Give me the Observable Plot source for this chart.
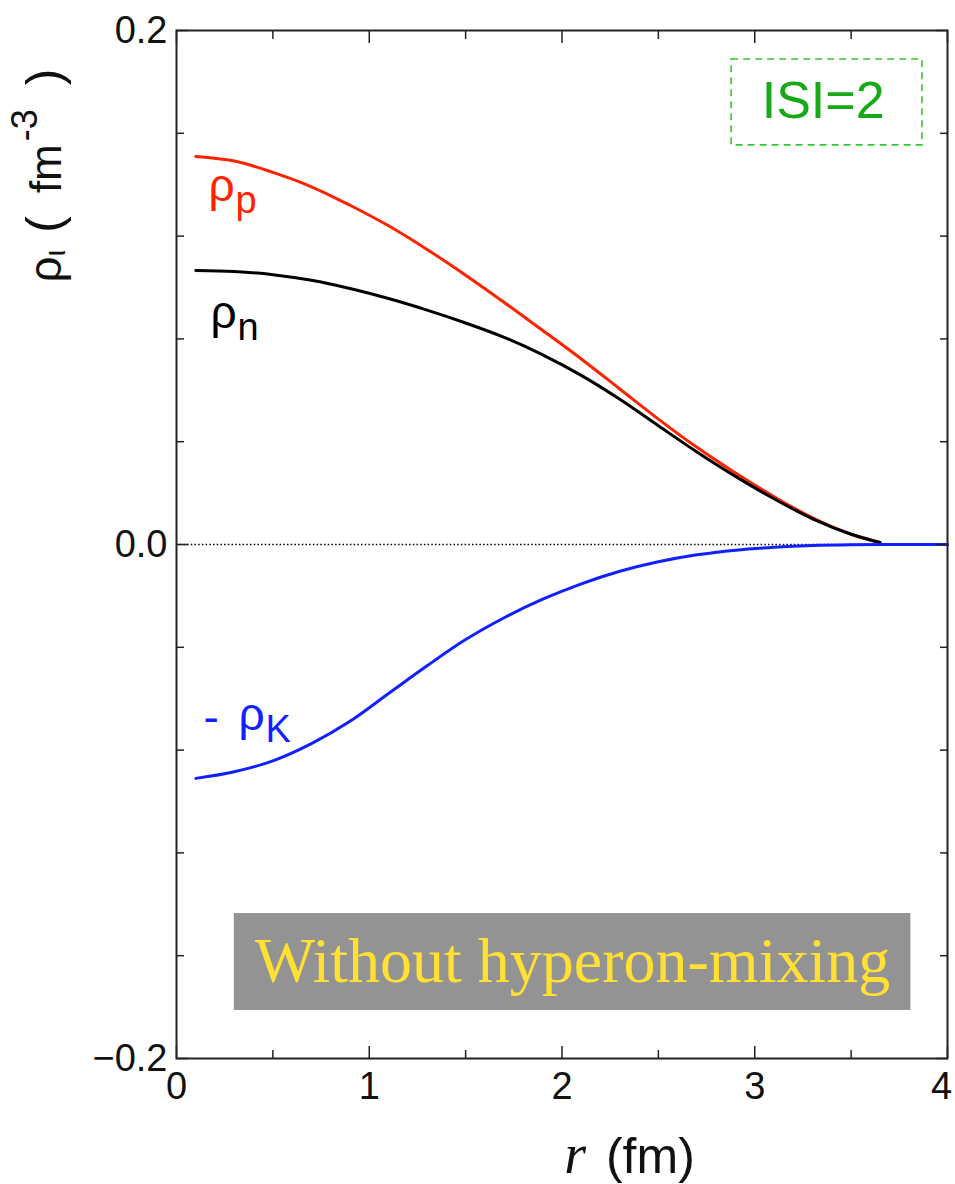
<!DOCTYPE html>
<html>
<head>
<meta charset="utf-8">
<script src="https://cdn.jsdelivr.net/npm/d3@7"></script>
<script src="https://cdn.jsdelivr.net/npm/@observablehq/plot@0.6"></script>
<style>
  html, body { margin: 0; padding: 0; background: #fff; }
  #chart svg { display: block; }
</style>
</head>
<body>
<div id="chart"></div>
<script>
// ---- data ----
const rNucleon = [0.1, 0.3, 0.5, 0.7, 0.9, 1.1, 1.3, 1.5, 1.7, 1.9, 2.1, 2.3, 2.5, 2.7, 2.9, 3.1, 3.3, 3.5, 3.65];
const rhoProton = [0.151, 0.1492, 0.1448, 0.1392, 0.1320, 0.1240, 0.1148, 0.1048, 0.0942, 0.0833, 0.0722, 0.0605, 0.0488, 0.0378, 0.0278, 0.0186, 0.0104, 0.0040, 0.0008];
const rhoNeutron = [0.1066, 0.1062, 0.1050, 0.1028, 0.0996, 0.0957, 0.0912, 0.0862, 0.0806, 0.0738, 0.0658, 0.0565, 0.0462, 0.0360, 0.0265, 0.0178, 0.0100, 0.0040, 0.0008];
const rKaon = [0.1, 0.3, 0.5, 0.7, 0.9, 1.1, 1.3, 1.5, 1.7, 1.9, 2.1, 2.3, 2.5, 2.7, 2.9, 3.1, 3.3, 3.5, 3.75, 4.0];
const minusRhoKaon = [-0.0910, -0.0884, -0.0842, -0.0775, -0.0688, -0.0580, -0.0472, -0.0370, -0.0285, -0.0213, -0.0153, -0.0104, -0.0067, -0.0040, -0.0022, -0.0011, -0.0004, -0.0001, 0, 0];

// ticks
const xMajorTicks = [0, 1, 2, 3, 4];
const xMinorTicks = [0.5, 1.5, 2.5, 3.5];
const yLabelTicks = [-0.2, 0, 0.2];
const yMinorTicks = [-0.16, -0.12, -0.08, -0.04, 0.04, 0.08, 0.12, 0.16];

// curve labels (symbol + subscript), anchored in data units
const curveLabelMain = ["ρ", "ρ", "ρ"];
const curveLabelSub = ["p", "n", "K"];
const curveLabelR = [0.166, 0.176, 0.322];
const curveLabelV = [0.1335, 0.0844, -0.0720];
const curveLabelColor = ["#ff2200", "#000000", "#1020ff"];
const minusSignR = [0.140];
const minusSignV = [-0.0735];

// annotations (data units)
const sBox = [{x1: 2.88, x2: 3.87, y1: 0.1553, y2: 0.1887}];
const sText = [{x: 3.355, y: 0.1658, t: "ISI=2"}];
const noteBox = [{x1: 0.30, x2: 3.81, y1: -0.1813, y2: -0.1436}];
const noteText = [{x: 2.054, y: -0.1704, t: "Without hyperon-mixing"}];
const yTitlePos = [{y: 0.1019}];
const xTitlePos = [{x: 2.350}];

const SANS = "'Liberation Sans', Arial, Helvetica, sans-serif";
const SERIF = "'Liberation Serif', 'Times New Roman', serif";

const tickStroke = {stroke: "#222", strokeWidth: 1.5, fill: "none", label: null};

const chart = Plot.plot({
  width: 955,
  height: 1184,
  marginLeft: 176,
  marginRight: 8,
  marginTop: 30,
  marginBottom: 126,
  style: {fontFamily: SANS, background: "#fff", color: "#111"},
  x: {domain: [0, 4]},
  y: {domain: [-0.2, 0.2]},
  marks: [
    // annotation backgrounds
    Plot.rect(noteBox, {x1: "x1", x2: "x2", y1: "y1", y2: "y2", fill: "#939393"}),
    Plot.text(noteText, {x: "x", y: "y", text: "t", fill: "#ffe033", fontSize: 64, fontFamily: SERIF, textAnchor: "middle", lineAnchor: "bottom"}),
    Plot.rect(sBox, {x1: "x1", x2: "x2", y1: "y1", y2: "y2", fill: "none", stroke: "#33c633", strokeWidth: 1.6, strokeDasharray: "7,5"}),
    Plot.text(sText, {x: "x", y: "y", text: "t", fill: "#17a917", fontSize: 52, textAnchor: "middle", lineAnchor: "bottom"}),

    // zero line
    Plot.ruleY([0], {stroke: "#000", strokeWidth: 1.5, strokeDasharray: "1.5,2.2"}),

    // curves
    Plot.line(rhoProton, {x: rNucleon, y: rhoProton, stroke: "#ff2200", strokeWidth: 3, curve: "catmull-rom"}),
    Plot.line(rhoNeutron, {x: rNucleon, y: rhoNeutron, stroke: "#000000", strokeWidth: 3, curve: "catmull-rom"}),
    Plot.line(minusRhoKaon, {x: rKaon, y: minusRhoKaon, stroke: "#1020ff", strokeWidth: 3, curve: "catmull-rom"}),

    // curve labels
    Plot.text(curveLabelMain, {x: curveLabelR, y: curveLabelV, text: curveLabelMain, fill: curveLabelColor, fontSize: 46, textAnchor: "start", lineAnchor: "bottom"}),
    Plot.text(curveLabelSub, {x: curveLabelR, y: curveLabelV, text: curveLabelSub, fill: curveLabelColor, fontSize: 38, textAnchor: "start", lineAnchor: "bottom", dx: 27, dy: 12}),
    Plot.text(minusSignR, {x: minusSignR, y: minusSignV, text: ["-"], fill: "#1020ff", fontSize: 46, textAnchor: "start", lineAnchor: "bottom"}),

    // inward ticks on all four sides
    Plot.axisY(yMinorTicks, {anchor: "left", tickSize: 8, dx: 8, ...tickStroke}),
    Plot.axisY(yLabelTicks, {anchor: "left", tickSize: 12, dx: 12, ...tickStroke}),
    Plot.axisY(yMinorTicks, {anchor: "right", tickSize: 8, dx: -8, ...tickStroke}),
    Plot.axisY(yLabelTicks, {anchor: "right", tickSize: 12, dx: -12, ...tickStroke}),
    Plot.axisX(xMinorTicks, {anchor: "bottom", tickSize: 8, dy: -8, ...tickStroke}),
    Plot.axisX(xMajorTicks, {anchor: "bottom", tickSize: 12, dy: -12, ...tickStroke}),
    Plot.axisX(xMinorTicks, {anchor: "top", tickSize: 8, dy: 8, ...tickStroke}),
    Plot.axisX(xMajorTicks, {anchor: "top", tickSize: 12, dy: 12, ...tickStroke}),

    // tick labels
    Plot.axisY(yLabelTicks, {anchor: "left", tickSize: 0, tickPadding: 9, tickFormat: d3.format(".1f"), label: null, fontSize: 38, fill: "#111"}),
    Plot.axisX(xMajorTicks.slice(0, -1), {anchor: "bottom", tickSize: 0, tickPadding: 14, tickFormat: d => String(d), label: null, fontSize: 38, fill: "#111"}),
    Plot.axisX(xMajorTicks.slice(-1), {anchor: "bottom", tickSize: 0, tickPadding: 14, dx: -6, tickFormat: d => String(d), label: null, fontSize: 38, fill: "#111"}),

    // axis titles (rich text filled in below)
    Plot.text(yTitlePos, {y: "y", frameAnchor: "left", dx: -116, rotate: -90, text: () => "YTITLE", textAnchor: "start", lineAnchor: "bottom", fontSize: 44, fill: "#111"}),
    Plot.text(xTitlePos, {x: "x", frameAnchor: "bottom", dy: 114, text: () => "XTITLE", textAnchor: "middle", lineAnchor: "bottom", fontSize: 50, fill: "#111"}),

    Plot.frame({stroke: "#222", strokeWidth: 2})
  ]
});

function richify(svg, placeholder, parts) {
  d3.select(svg).selectAll("text").filter(function () { return this.textContent === placeholder; })
    .each(function () {
      const el = d3.select(this);
      el.text(null);
      parts.forEach(p => {
        const ts = el.append("tspan").text(p.text);
        if (p.size) ts.attr("font-size", p.size);
        if (p.family) ts.attr("font-family", p.family);
        if (p.style) ts.attr("font-style", p.style);
        if (p.dx) ts.attr("dx", p.dx);
        if (p.dy) ts.attr("dy", p.dy);
      });
    });
}

richify(chart, "YTITLE", [
  {text: "ρ", size: 46},
  {text: "ι", size: 30, dy: 4},
  {text: "(", size: 50, dy: -4, dx: 17},
  {text: "fm", size: 44, dx: 23},
  {text: "-3", size: 36, dy: -24, dx: 3},
  {text: ")", size: 50, dy: 24, dx: 24}
]);
richify(chart, "XTITLE", [
  {text: "r", size: 56, family: SERIF, style: "italic"},
  {text: "(fm)", size: 50, dx: 20}
]);

document.getElementById("chart").appendChild(chart);
</script>
</body>
</html>
